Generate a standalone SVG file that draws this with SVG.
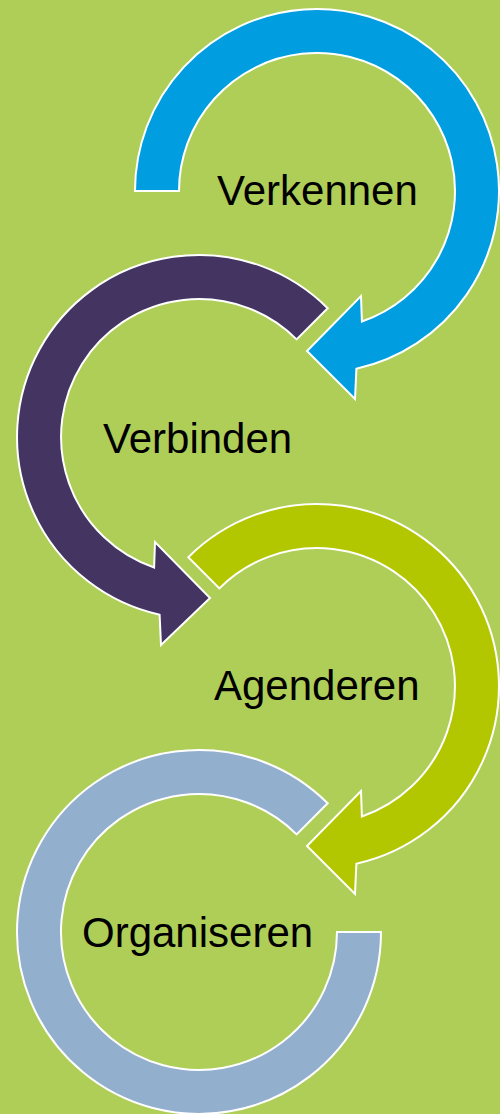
<svg xmlns="http://www.w3.org/2000/svg" width="500" height="1114" viewBox="0 0 500 1114">
<style>
.arc{stroke:#FFFFFF;stroke-width:2;stroke-linejoin:miter}
.lbl{font-family:"Liberation Sans",Arial,sans-serif;font-size:42px;fill:#000000}
</style>
<rect x="0" y="0" width="500" height="1114" fill="#AFCE58"/>
<g id="connectors"></g>
<g id="verkennen">
<path class="arc" fill="#009EE0" d="M135,191 A182,182 0 1 1 356.4,368.7 L355,399 L307,351 L361,296 L361.9,321.5 A138,138 0 1 0 179,191 Z"/>
<text class="lbl" x="217" y="205">Verkennen</text>
</g>
<g id="verbinden">
<path class="arc" fill="#433461" d="M327.7,308.3 A182,182 0 1 0 159.6,614.7 L161,645 L210,598 L155,542 L154.1,567.5 A138,138 0 1 1 296.6,339.4 Z"/>
<text class="lbl" x="103" y="453">Verbinden</text>
</g>
<g id="agenderen">
<path class="arc" fill="#B2C700" d="M188.3,557.3 A182,182 0 1 1 356.4,863.7 L355,894 L307,846 L361,791 L361.9,816.5 A138,138 0 1 0 219.4,588.4 Z"/>
<text class="lbl" x="214" y="700">Agenderen</text>
</g>
<g id="organiseren">
<path class="arc" fill="#93AFCE" d="M327.7,803.3 A182,182 0 1 0 381,932 L337,932 A138,138 0 1 1 296.6,834.4 Z"/>
<text class="lbl" x="82" y="947">Organiseren</text>
</g>
</svg>
